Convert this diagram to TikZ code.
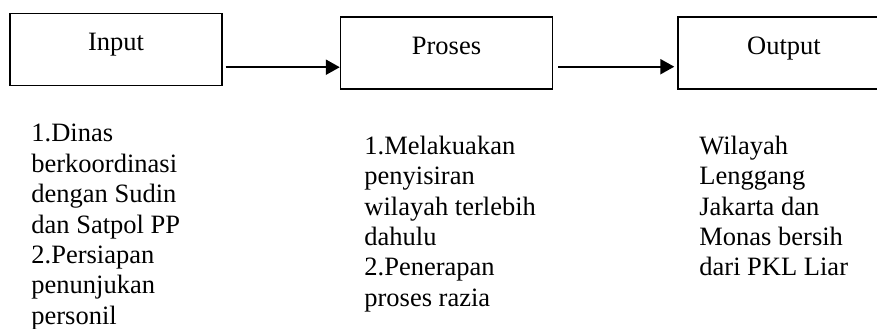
\documentclass[tikz,border=0pt]{standalone}
\usepackage{fontspec}
\setmainfont{Liberation Serif}
\usetikzlibrary{arrows.meta}
\tikzset{
  kotak/.style={draw, line width=0.7pt, minimum width=106pt, inner xsep=0pt, inner ysep=0pt,
    text height=18.5pt, text depth=17.5pt},
  panah/.style={-{Triangle[length=7pt,width=7.5pt]}, line width=1.1pt},
  ket/.style={anchor=north west, align=left, inner sep=0pt},
  every node/.style={font=\fontsize{13.25pt}{15.2pt}\selectfont}
}
\begin{document}
\begin{tikzpicture}[x=0.5pt, y=-0.5pt]
  \useasboundingbox (0, 0) rectangle (877, 328);
  \clip (0, 0) rectangle (877, 328);
  \node [kotak] (input) at (116, 49.5) {Input};
  \node [kotak] (proses) at (446.5, 53) {Proses};
  \node [kotak] (output) at (784, 53) {Output};
  \draw [panah] ([xshift=1.5pt, yshift=9.5pt]input.south east) -- ([yshift=9.5pt]input.south east -| proses.west);
  \draw [panah, shorten >=1.5pt] ([xshift=2.5pt, yshift=11.5pt]proses.south east) -- ([yshift=11.5pt]proses.south east -| output.west);
  \node [ket] (ketinput) at (31, 124) {1.Dinas\\ berkoordinasi\\ dengan Sudin\\ dan Satpol PP\\ 2.Persiapan\\ penunjukan\\ personil};
  \node [ket] (ketproses) at (364, 135.5) {1.Melakuakan\\ penyisiran\\ wilayah terlebih\\ dahulu\\ 2.Penerapan\\ proses razia};
  \node [ket] (ketoutput) at (699, 135.5) {Wilayah\\ Lenggang\\ Jakarta dan\\ Monas bersih\\ dari PKL Liar};
\end{tikzpicture}
\end{document}
